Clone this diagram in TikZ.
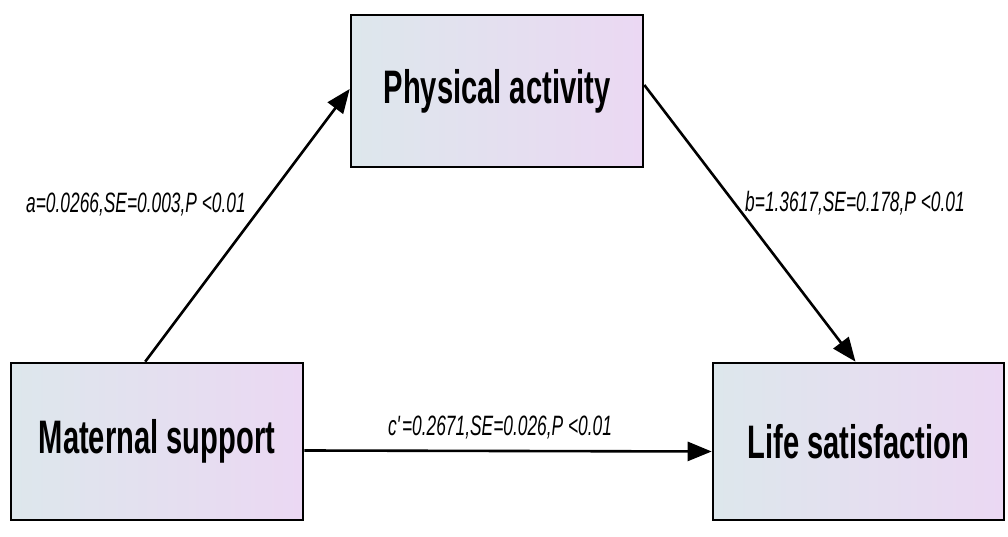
\documentclass[tikz,border=0pt]{standalone}
\usepackage{fontspec}
\newfontfamily\nar[FakeStretch=0.62]{Liberation Sans}
\usetikzlibrary{arrows.meta,calc}
\definecolor{boxL}{RGB}{221,231,236}
\definecolor{boxR}{RGB}{235,216,243}
\tikzset{
  varbox/.style={draw=black, line width=2.6pt, minimum width=292pt, inner sep=0pt,
    shading=axis, left color=boxL, right color=boxR, shading angle=90,
    font=\nar\bfseries\fontsize{47}{50}\selectfont},
  path/.style={line width=2.6pt, -{Triangle[length=24pt,width=19pt]}},
  coef/.style={font=\nar\itshape\fontsize{28}{32}\selectfont}
}
\begin{document}
\begin{tikzpicture}[x=1pt,y=1pt]
\useasboundingbox (0,0) rectangle (1008,537);
\node[varbox, minimum height=152pt] (PA) at (497,446) {Physical activity};
\node[varbox, minimum height=157pt] (MS) at (157,95.5) {Maternal support};
\node[varbox, minimum width=291pt, minimum height=157pt] (LS) at (858.5,95.5) {Life satisfaction};
\coordinate (aS) at ($(MS.north west)!0.46!(MS.north east)$);
\draw[path] (aS) -- ([yshift=2pt]PA.west);
\draw[path] ([yshift=6pt]PA.east) -- ([xshift=-3pt]LS.north);
\draw[path] ([yshift=-9pt]MS.east) -- ([yshift=-10pt]LS.west);
\node[coef] (la) at (136,332) {a=0.0266,SE=0.003,P <0.01};
\node[coef] (lb) at (855,334) {b=1.3617,SE=0.178,P <0.01};
\node[coef] (lc) at (500,109) {c\textquotesingle=0.2671,SE=0.026,P <0.01};
\end{tikzpicture}
\end{document}
